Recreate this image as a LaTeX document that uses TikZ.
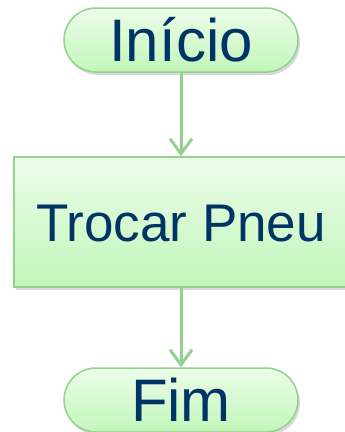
\documentclass[tikz,border=0pt]{standalone}
\usepackage{fontspec}
\setmainfont{Liberation Sans}
\usetikzlibrary{shadows,arrows.meta}
\definecolor{linegreen}{RGB}{148,208,142}
\definecolor{filltop}{RGB}{236,253,233}
\definecolor{fillbot}{RGB}{194,246,186}
\definecolor{textblue}{RGB}{0,51,102}
\def\bigfont{\fontsize{60}{72}\selectfont}
\def\midfont{\fontsize{53}{64}\selectfont}

\begin{document}
\begin{tikzpicture}[
    x=1pt, y=1pt,
    boxbase/.style={draw=linegreen, line width=1.5pt, top color=filltop, bottom color=fillbot,
        drop shadow={opacity=0.3, shadow xshift=2pt, shadow yshift=-3pt},
        text=textblue, inner sep=0pt, text depth=0pt},
    terminal/.style={boxbase, rounded corners=32pt, minimum width=234pt, minimum height=64pt,
        font=\bigfont, text height=43pt},
    process/.style={boxbase, minimum width=334pt, minimum height=130pt,
        font=\midfont, text height=38pt},
    flow/.style={draw=linegreen, line width=3pt, -{Straight Barb[length=15pt,width=22pt]}}
]
    \useasboundingbox (0,0) rectangle (345,-432);
    \node[terminal] (inicio) at (181,-40) {Início};
    \node[process] (trocar) at (181,-222) {Trocar Pneu};
    \node[terminal] (fim) at (181,-400) {Fim};
    \draw[flow] (inicio) -- (trocar);
    \draw[flow] (trocar) -- (fim);
\end{tikzpicture}
\end{document}
